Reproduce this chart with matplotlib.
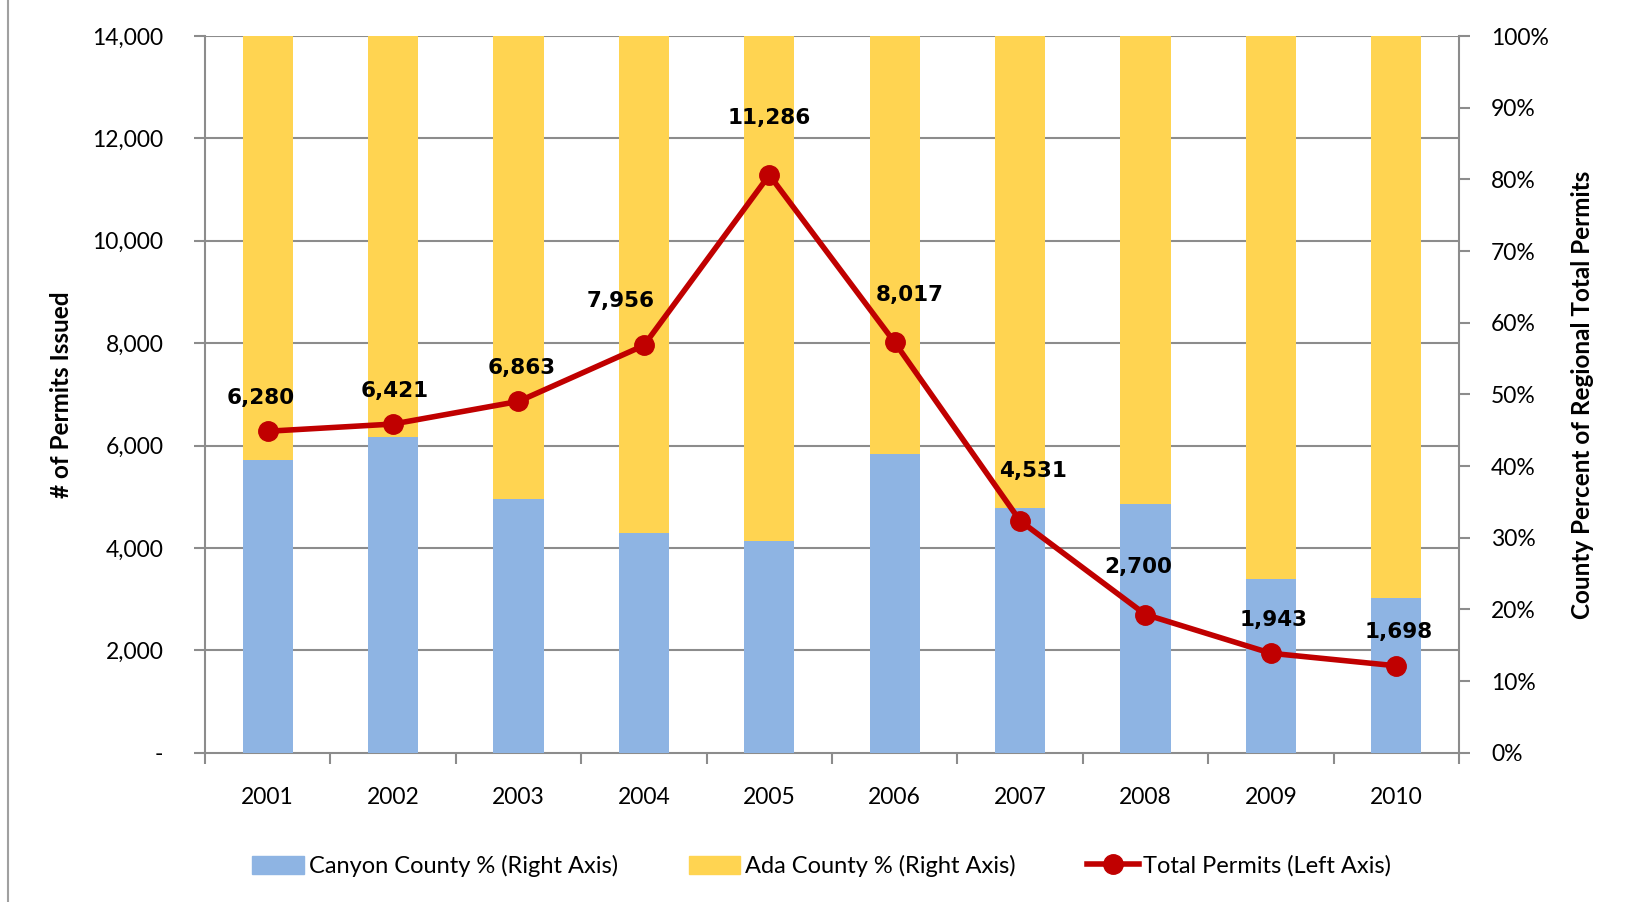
import matplotlib
matplotlib.use("Agg")
import matplotlib.pyplot as plt
from matplotlib.lines import Line2D
from matplotlib.patches import Patch
import numpy as np

years = ["2001", "2002", "2003", "2004", "2005", "2006", "2007", "2008", "2009", "2010"]
canyon_pct = [40.9, 44.1, 35.4, 30.7, 29.6, 41.7, 34.1, 34.7, 24.2, 21.6]
ada_pct = [100 - c for c in canyon_pct]
total_permits = [6280, 6421, 6863, 7956, 11286, 8017, 4531, 2700, 1943, 1698]

# label offsets (points) for data labels
label_dx = [-5, 1, 2, -17, 0, 11, 9, -5, 2, 2]
label_dy = [24, 24, 24, 32, 41, 34, 36, 34, 24, 24]

plt.rcParams['font.family'] = ['Lato', 'DejaVu Sans']

BLUE = "#8EB4E3"
YELLOW = "#FFD451"
RED = "#C00000"
GREY = "#8C8C8C"

fig = plt.figure(figsize=(16.27, 9.02), dpi=100)
rect = [0.126, 0.1655, 0.7707, 0.7945]
ax = fig.add_axes(rect)
ax2 = ax.twinx()

x = np.arange(len(years))
ax.set_xlim(-0.5, len(years) - 0.5)
ax.set_ylim(0, 14000)
ax2.set_ylim(0, 100)

# gridlines at left ticks
ax.set_yticks(np.arange(0, 14001, 2000))
for yv in np.arange(2000, 14001, 2000):
    ax.axhline(yv, color=GREY, lw=1.5, zorder=0)

# bars on right axis
ax2.bar(x, canyon_pct, width=0.4, color=BLUE, zorder=2)
ax2.bar(x, ada_pct, width=0.4, bottom=canyon_pct, color=YELLOW, zorder=2)

ax.set_zorder(0)
ax2.set_zorder(1)
ax2.patch.set_visible(False)

# line on left-axis scale, drawn above the bars
ax3 = fig.add_axes(rect, sharex=ax)
ax3.set_zorder(2)
ax3.set_ylim(0, 14000)
ax3.patch.set_visible(False)
ax3.axis('off')
ax3.plot(x, total_permits, color=RED, lw=4, marker='o', ms=14, zorder=5)
for xi, v, dx, dy in zip(x, total_permits, label_dx, label_dy):
    ax3.annotate(f"{v:,}", (xi, v), xytext=(dx, dy), textcoords='offset points',
                 ha='center', va='center', fontsize=15.5, fontweight='bold',
                 family='DejaVu Sans', color='black')

# left axis ticks
def lfmt(v):
    return "-" if v == 0 else f"{int(v):,}"
ax.set_yticklabels([lfmt(v) for v in np.arange(0, 14001, 2000)], fontsize=16.5)
ax.tick_params(axis='y', direction='out', length=8, width=1.5, color=GREY, pad=22)

ax2.set_yticks(np.arange(0, 101, 10))
ax2.set_yticklabels([f"{v}%" for v in range(0, 101, 10)], fontsize=16.5)
ax2.tick_params(axis='y', direction='out', length=8, width=1.5, color=GREY, pad=15)

# x axis
ax.set_xticks(x)
ax.set_xticklabels(years, fontsize=16.5)
ax.tick_params(axis='x', length=0, pad=25)
ax.set_xticks(np.arange(-0.5, len(years), 1), minor=True)
ax.tick_params(axis='x', which='minor', direction='out', length=8, width=1.5, color=GREY)
ax2.tick_params(axis='x', length=0)

for a in (ax, ax2):
    a.spines['top'].set_visible(False)
    for s in ('left', 'right', 'bottom'):
        a.spines[s].set_color(GREY)
        a.spines[s].set_linewidth(1.5)
ax.spines['right'].set_visible(False)
ax2.spines['left'].set_visible(False)
ax2.spines['bottom'].set_visible(False)

ax.set_ylabel("# of Permits Issued", fontsize=17.5, fontweight='bold')
ax2.set_ylabel("County Percent of Regional Total Permits", fontsize=17.5, fontweight='bold')
ax.yaxis.set_label_coords(-0.105, 0.5)
ax2.yaxis.set_label_coords(1.089, 0.5)

handles = [Patch(color=BLUE), Patch(color=YELLOW),
           Line2D([0], [0], color=RED, lw=4, marker='o', ms=14)]
labels = ["Canyon County % (Right Axis)", "Ada County % (Right Axis)", "Total Permits (Left Axis)"]
fig.legend(handles, labels, loc='center', bbox_to_anchor=(0.505, 0.040), ncol=3,
           frameon=False, fontsize=17, handlelength=2.2, handleheight=0.8,
           handletextpad=0.2, columnspacing=3.0)

fig.add_artist(Line2D([8 / 1627, 8 / 1627], [0, 1], color="#A0A0A0", lw=1.5,
                      transform=fig.transFigure))

fig.savefig("out.png", dpi=100)
